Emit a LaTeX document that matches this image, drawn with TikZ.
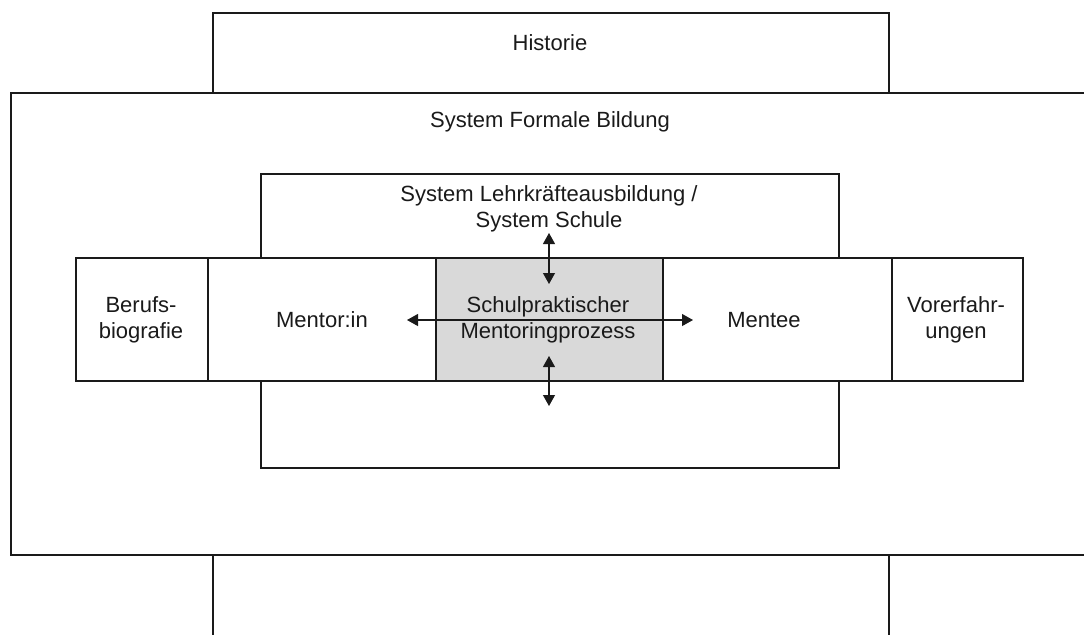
\documentclass[tikz,border=0pt]{standalone}
\usepackage{fontspec}
\setmainfont{Liberation Sans}
\usetikzlibrary{arrows.meta}
\definecolor{ink}{HTML}{1A1A1A}
\definecolor{procgray}{HTML}{D9D9D9}
\begin{document}
\begin{tikzpicture}[x=0.5pt,y=-0.5pt,
  frame/.style={draw=ink, line width=0.9pt, fill=white, rectangle, inner sep=0pt},
  label/.style={text=ink, inner sep=0pt, align=center, font=\fontsize{11}{13}\selectfont},
  dbl/.style={draw=ink, line width=0.55pt, {Triangle[length=5.5pt,width=6pt]}-{Triangle[length=5.5pt,width=6pt]}}]
\useasboundingbox (0,0) rectangle (1084,634);
\clip (0,0) rectangle (1084,634);
\fill[white] (0,0) rectangle (1084,634);
% outer context boxes
\node[frame, anchor=north west, minimum width=338pt, minimum height=400pt] (hist) at (212,12) {};
\node[frame, anchor=north west, minimum width=560pt, minimum height=231pt] (formal) at (10,92) {};
\node[label] (histlbl) at (550,43) {Historie};
\node[label] (formallbl) at (550,122) {System Formale Bildung};
% teacher education / school system
\node[frame, anchor=north west, minimum width=289pt, minimum height=147pt] (lehr) at (260,173) {};
\node[label] (lehrlbl) at (549,209) {System Lehrkräfteausbildung /\\System Schule};
% central row
\node[frame, anchor=north west, minimum width=66pt, minimum height=61.5pt] (beruf) at (75,257) {};
\node[frame, anchor=north west, minimum width=114pt, minimum height=61.5pt] (mentor) at (207,257) {};
\node[frame, anchor=north west, minimum width=114.5pt, minimum height=61.5pt] (mentee) at (662,257) {};
\node[frame, anchor=north west, minimum width=65.5pt, minimum height=61.5pt] (vor) at (891,257) {};
\node[frame, fill=procgray, anchor=north west, minimum width=113.5pt, minimum height=61.5pt] (proc) at (435,257) {};
\node[label] (berufllbl) at (141,320) {Berufs-\\biografie};
\node[label] (mentorlbl) at (322,320) {Mentor:in};
\node[label] (procllbl) at (548,320) {Schulpraktischer\\Mentoringprozess};
\node[label] (menteelbl) at (764,320) {Mentee};
\node[label] (vorlbl) at (956,320) {Vorerfahr-\\ungen};
% arrow ends
\coordinate (upA) at (549,233);
\coordinate (upB) at (549,284);
\coordinate (dnA) at (549,356);
\coordinate (dnB) at (549,406);
\coordinate (lt) at (407,320);
\coordinate (rt) at (693,320);
\draw[dbl] (upA) -- (upB);
\draw[dbl] (dnA) -- (dnB);
\draw[dbl] (lt) -- (rt);
\end{tikzpicture}
\end{document}
